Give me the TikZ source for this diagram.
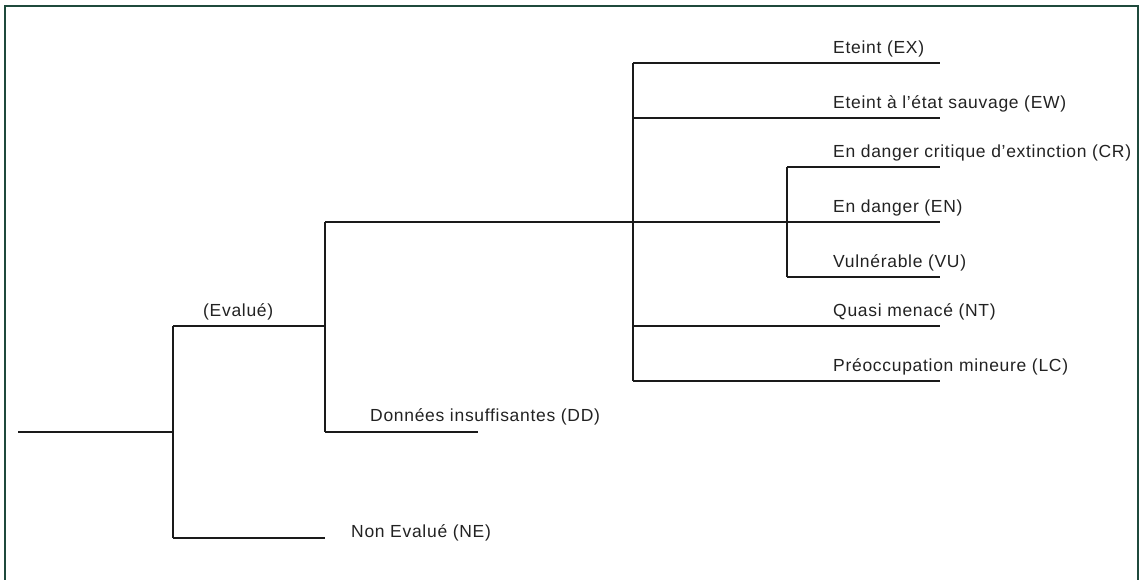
\documentclass[tikz,border=0pt]{standalone}
\usepackage{fontspec}
\setmainfont{Liberation Sans}[LetterSpace=4]
\definecolor{framegreen}{HTML}{1F4A3C}
\definecolor{treeline}{HTML}{1A1A1A}
\definecolor{labeltext}{HTML}{222222}
\begin{document}
\begin{tikzpicture}[x=1pt,y=-1pt,
  branch/.style={draw=treeline,line width=1.3pt},
  lbl/.style={anchor=base west,inner sep=0pt,font=\fontsize{17.5}{20}\selectfont,text=labeltext}]
\useasboundingbox (0,0) rectangle (1143,579);
\draw[framegreen,line width=2pt] (5,590) -- (5,6) -- (1138,6) -- (1138,590);
% branch points
\coordinate (root) at (18,432);
\coordinate (b1t) at (173,326);
\coordinate (b1m) at (173,432);
\coordinate (b1b) at (173,538);
\coordinate (neE) at (325,538);
\coordinate (b2t) at (325,222);
\coordinate (b2e) at (325,326);
\coordinate (b2b) at (325,432);
\coordinate (ddE) at (478,432);
\coordinate (b3t) at (633,63);
\coordinate (b3w) at (633,118);
\coordinate (b3m) at (633,222);
\coordinate (b3n) at (633,326);
\coordinate (b3b) at (633,381);
\coordinate (b4t) at (787,167);
\coordinate (b4b) at (787,277);
\coordinate (exE) at (940,63);
\coordinate (ewE) at (940,118);
\coordinate (crE) at (940,167);
\coordinate (enE) at (940,222);
\coordinate (vuE) at (940,277);
\coordinate (ntE) at (940,326);
\coordinate (lcE) at (940,381);
% tree
\draw[branch] (root) -- (b1m);
\draw[branch] (b1t) -- (b1b);
\draw[branch] (b1t) -- (b2e);
\draw[branch] (b1b) -- (neE);
\draw[branch] (b2t) -- (b2b);
\draw[branch] (b2b) -- (ddE);
\draw[branch] (b2t) -- (b3m);
\draw[branch] (b3t) -- (b3b);
\draw[branch] (b3t) -- (exE);
\draw[branch] (b3w) -- (ewE);
\draw[branch] (b3m) -- (enE);
\draw[branch] (b3n) -- (ntE);
\draw[branch] (b3b) -- (lcE);
\draw[branch] (b4t) -- (b4b);
\draw[branch] (b4t) -- (crE);
\draw[branch] (b4b) -- (vuE);
% labels
\node[lbl] (ev) at (203,316) {(Evalué)};
\node[lbl] (dd) at (370,421) {Données insuffisantes (DD)};
\node[lbl] (ne) at (351,537) {Non Evalué (NE)};
\node[lbl] (ex) at (833,53) {Eteint (EX)};
\node[lbl] (ew) at (833,108) {Eteint à l’état sauvage (EW)};
\node[lbl] (cr) at (833,157) {En danger critique d’extinction (CR)};
\node[lbl] (en) at (833,212) {En danger (EN)};
\node[lbl] (vu) at (833,267) {Vulnérable (VU)};
\node[lbl] (nt) at (833,316) {Quasi menacé (NT)};
\node[lbl] (lc) at (833,371) {Préoccupation mineure (LC)};
\end{tikzpicture}
\end{document}
